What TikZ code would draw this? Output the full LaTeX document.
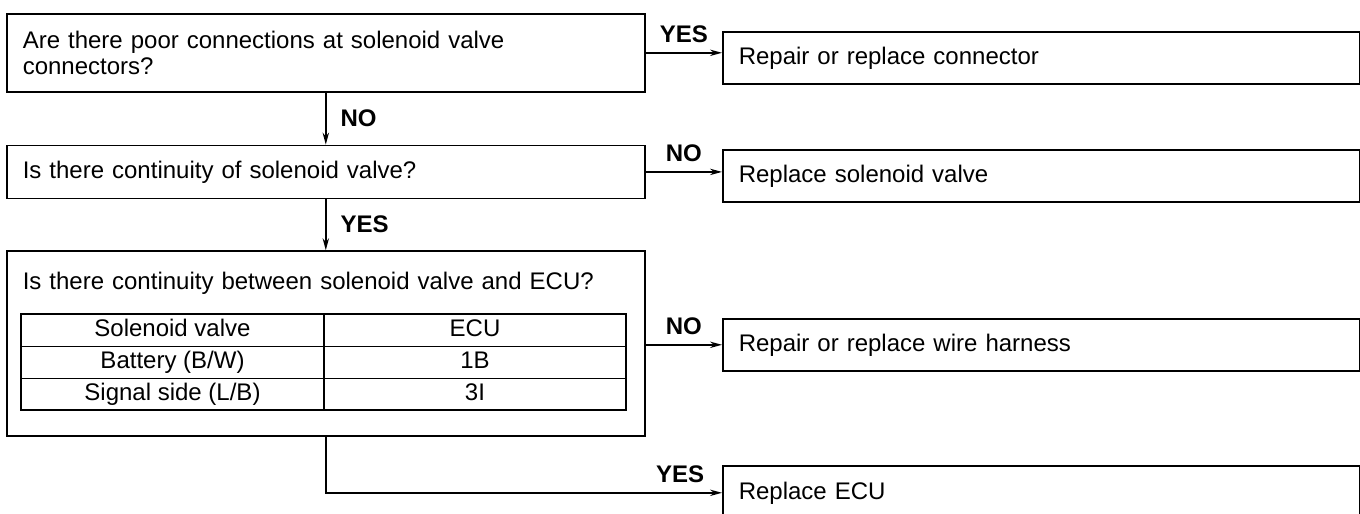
\documentclass[tikz,border=0pt]{standalone}
\usepackage{fontspec}
\setmainfont{Liberation Sans}
\usetikzlibrary{arrows.meta, positioning}

\begin{document}
\begin{tikzpicture}[x=0.5pt, y=-0.5pt, >={Stealth[length=6pt, width=3.2pt]},
    font=\fontsize{12}{13}\selectfont,
    qbox/.style={draw, line width=0.8pt, inner xsep=8pt, text width=303pt, align=left},
    abox/.style={draw, line width=0.8pt, inner xsep=8pt, text width=302.5pt, align=left,
        minimum height=26pt, anchor=north west},
    cell/.style={draw, line width=0.6pt, outer sep=0pt, inner sep=0pt, minimum height=16pt,
        text height=9pt, text depth=2.5pt, align=center},
    lbl/.style={font=\fontsize{12}{13}\selectfont\bfseries, inner sep=0pt},
    flow/.style={->, line width=0.7pt}]

    \useasboundingbox (0,0) rectangle (1360,514);

    % =================================================================
    % 1. QUESTION BOXES (LEFT COLUMN)
    % =================================================================
    \node[qbox, minimum height=39pt, anchor=north west] (q1) at (6,13)
        {Are there poor connections at solenoid valve\\connectors?};
    \node[qbox, minimum height=26.5pt, below=26pt of q1] (q2)
        {Is there continuity of solenoid valve?};
    \node[qbox, inner ysep=0pt, text height=19pt, text depth=73.5pt, below=25.5pt of q2] (q3)
        {Is there continuity between solenoid valve and ECU?};

    % Table inside the third box
    \node[cell, minimum width=151.5pt, anchor=north west] (t11) at ([xshift=7.5pt, yshift=-32pt]q3.north west) {Solenoid valve};
    \node[cell, minimum width=151pt, right=0pt of t11] (t12) {ECU};
    \node[cell, minimum width=151.5pt, below=0pt of t11] (t21) {Battery (B/W)};
    \node[cell, minimum width=151pt, right=0pt of t21] (t22) {1B};
    \node[cell, minimum width=151.5pt, below=0pt of t21] (t31) {Signal side (L/B)};
    \node[cell, minimum width=151pt, right=0pt of t31] (t32) {3I};
    \draw[line width=1pt] (t11.north west) rectangle (t32.south east);

    % =================================================================
    % 2. ACTION BOXES (RIGHT COLUMN)
    % =================================================================
    \node[abox] (r1) at (722,31) {Repair or replace connector};
    \node[abox] (r2) at (722,149) {Replace solenoid valve};
    \node[abox] (r3) at (722,318) {Repair or replace wire harness};
    \node[abox, minimum height=27pt] (r4) at (722,465) {Replace ECU};

    % =================================================================
    % 3. CONNECTORS AND YES/NO LABELS
    % =================================================================
    \draw[flow] (q1.east) -- (q1.east -| r1.west) node[lbl, midway, above=4.5pt] (yes1) {YES};
    \draw[flow] (q1) -- (q2) node[lbl, midway, right=7pt] (no1) {NO};
    \draw[flow] (q2.east) -- (q2.east -| r2.west) node[lbl, midway, above=4.5pt] (no2) {NO};
    \draw[flow] (q2) -- (q3) node[lbl, midway, right=7pt] (yes2) {YES};
    \draw[flow] (r3.west -| q3.east) -- (r3.west) node[lbl, midway, above=4.5pt] (no3) {NO};
    \draw[flow] (q3.south) |- (r4.west) node[lbl, pos=0.947, above=4.5pt] (yes3) {YES};

\end{tikzpicture}
\end{document}
